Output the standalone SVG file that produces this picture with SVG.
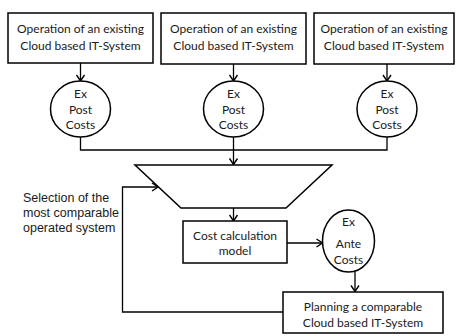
<svg xmlns="http://www.w3.org/2000/svg" width="456" height="336" viewBox="0 0 456 336">
<defs>
<style>
.box{fill:#fff;stroke:#000;stroke-width:1.5}
.t{font-family:Lato,"Liberation Sans",sans-serif;font-size:12px;fill:#1a1a1a;text-anchor:middle}
.a{font-family:"Liberation Sans",Arial,sans-serif;font-size:12.5px;fill:#1a1a1a}
.c{fill:none;stroke:#000;stroke-width:1.3}
</style>
<marker id="ar" markerWidth="10" markerHeight="10" refX="7" refY="5" orient="auto" markerUnits="userSpaceOnUse">
<path d="M1,1 L7,5 L1,9" fill="none" stroke="#000" stroke-width="1.4"/>
</marker>
</defs>
<rect width="456" height="336" fill="#fff"/>
<g id="connectors">
<path class="c" d="M80.5,63 V81" marker-end="url(#ar)"/>
<path class="c" d="M233.5,64 V81" marker-end="url(#ar)"/>
<path class="c" d="M387,64 V81" marker-end="url(#ar)"/>
<path class="c" d="M80.5,137 V150 H387 V137"/>
<path class="c" d="M233.5,137 V164.5" marker-end="url(#ar)"/>
<path class="c" d="M233.5,208 V221" marker-end="url(#ar)"/>
<path class="c" d="M287,243 H322.5" marker-end="url(#ar)"/>
<path class="c" d="M355,271.5 V291.5" marker-end="url(#ar)"/>
<path class="c" d="M283,312 H122.5 V187 H158" marker-end="url(#ar)"/>
</g>
<g id="sys1"><rect class="box" x="8" y="13" width="145" height="50"/><text class="t" x="80.5" y="33">Operation of an existing</text><text class="t" x="80.5" y="49.5">Cloud based IT-System</text></g>
<g id="sys2"><rect class="box" x="161" y="13" width="145" height="51"/><text class="t" x="233.5" y="33">Operation of an existing</text><text class="t" x="233.5" y="49.5">Cloud based IT-System</text></g>
<g id="sys3"><rect class="box" x="314" y="13" width="140" height="51"/><text class="t" x="384" y="33">Operation of an existing</text><text class="t" x="384" y="49.5">Cloud based IT-System</text></g>
<g id="post1"><ellipse class="box" cx="80.5" cy="109" rx="30" ry="28"/><text class="t" x="80.5" y="98">Ex</text><text class="t" x="80.5" y="114">Post</text><text class="t" x="80.5" y="129">Costs</text></g>
<g id="post2"><ellipse class="box" cx="233.5" cy="109" rx="30" ry="28"/><text class="t" x="233.5" y="98">Ex</text><text class="t" x="233.5" y="114">Post</text><text class="t" x="233.5" y="129">Costs</text></g>
<g id="post3"><ellipse class="box" cx="387" cy="109" rx="30" ry="28"/><text class="t" x="387" y="98">Ex</text><text class="t" x="387" y="114">Post</text><text class="t" x="387" y="129">Costs</text></g>
<g id="selector"><polygon class="box" points="135,165 332,165 286,208 181,208"/></g>
<g id="selection-label"><text class="a" x="23" y="202">Selection of the</text><text class="a" x="23" y="217">most comparable</text><text class="a" x="23" y="232">operated system</text></g>
<g id="model"><rect class="box" x="183" y="221" width="104" height="42"/><text class="t" x="235" y="240">Cost calculation</text><text class="t" x="235" y="255">model</text></g>
<g id="ante"><ellipse class="box" cx="348.5" cy="241" rx="26" ry="31"/><text class="t" x="348.5" y="226">Ex</text><text class="t" x="348.5" y="248">Ante</text><text class="t" x="348.5" y="264">Costs</text></g>
<g id="planning"><rect class="box" x="283" y="292" width="160" height="41"/><text class="t" x="363" y="311">Planning a comparable</text><text class="t" x="363" y="327">Cloud based IT-System</text></g>
</svg>
